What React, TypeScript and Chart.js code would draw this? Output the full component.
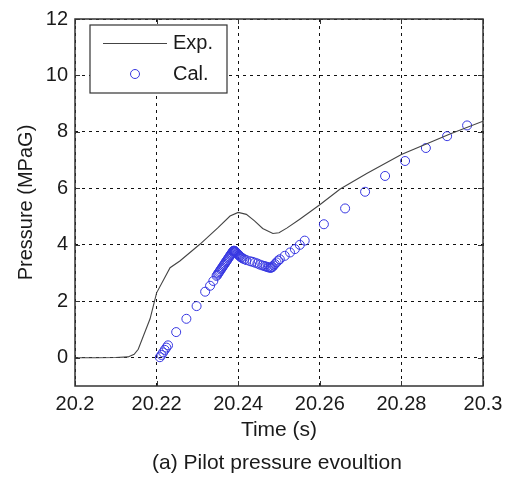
import React, { useEffect, useRef } from "react";
import { Chart, registerables } from "chart.js";

Chart.register(...registerables);

// Experimental curve (time in s, pressure in MPaG)
const expTime = [
  20.2, 20.205, 20.21, 20.213, 20.2145, 20.2155, 20.2184, 20.22, 20.2233, 20.2257,
  20.2306, 20.235, 20.238, 20.24, 20.242, 20.244, 20.246, 20.2485, 20.25, 20.252,
  20.255, 20.26, 20.265, 20.2715, 20.28, 20.2919, 20.3,
];
const expPressure = [
  0.0, 0.0, 0.01, 0.03, 0.12, 0.3, 1.38, 2.3, 3.19, 3.43,
  4.02, 4.6, 5.02, 5.15, 5.08, 4.85, 4.58, 4.4, 4.43, 4.6,
  4.9, 5.42, 5.98, 6.53, 7.2, 7.93, 8.38,
];

// Calculated points
const calTime = [
  20.2208, 20.2212, 20.2216, 20.222, 20.2224, 20.2228, 20.2248, 20.2273, 20.2298, 20.2319,
  20.2331, 20.2339, 20.2347, 20.2349, 20.2351, 20.2353, 20.2355, 20.2357, 20.2359, 20.2361,
  20.2363, 20.2365, 20.2367, 20.2369, 20.2371, 20.2373, 20.2375, 20.2377, 20.2379, 20.2381,
  20.2383, 20.2385, 20.2387, 20.2388, 20.2389, 20.239, 20.2391, 20.2392, 20.2393, 20.2394,
  20.2396, 20.2398, 20.24, 20.2402, 20.2404, 20.2406, 20.2408, 20.2411, 20.2415, 20.242,
  20.2429, 20.2435, 20.2441, 20.2447, 20.2453, 20.2459, 20.2464, 20.2468, 20.2472, 20.2475,
  20.2478, 20.248, 20.2482, 20.2484, 20.2487, 20.249, 20.2494, 20.2498, 20.2502, 20.2514,
  20.2527, 20.2539, 20.2551, 20.2563, 20.261, 20.2662, 20.2711, 20.276, 20.2809, 20.286,
  20.2912, 20.2961,
];
const calPressure = [
  0.02, 0.1, 0.19, 0.28, 0.36, 0.44, 0.91, 1.38, 1.83, 2.34,
  2.55, 2.72, 2.9, 2.94, 2.99, 3.03, 3.07, 3.12, 3.16, 3.2,
  3.25, 3.29, 3.33, 3.38, 3.42, 3.46, 3.51, 3.55, 3.59, 3.64,
  3.68, 3.72, 3.76, 3.78, 3.79, 3.79, 3.78, 3.77, 3.75, 3.74,
  3.71, 3.68, 3.66, 3.63, 3.6, 3.57, 3.55, 3.52, 3.49, 3.46,
  3.42, 3.4, 3.37, 3.34, 3.3, 3.27, 3.25, 3.23, 3.21, 3.2,
  3.19, 3.19, 3.2, 3.22, 3.27, 3.32, 3.38, 3.44, 3.49, 3.61,
  3.73, 3.85, 4.0, 4.15, 4.73, 5.29, 5.88, 6.44, 6.97, 7.43,
  7.85, 8.23,
];

const xTickValues = [20.2, 20.22, 20.24, 20.26, 20.28, 20.3];
const xTickLabels = ["20.2", "20.22", "20.24", "20.26", "20.28", "20.3"];
const yTickValues = [0, 2, 4, 6, 8, 10, 12];
const yTickLabels = ["0", "2", "4", "6", "8", "10", "12"];

const seriesNames = ["Exp.", "Cal."];
const xTitle = "Time (s)";
const yTitle = "Pressure (MPaG)";
const caption = "(a) Pilot pressure evoultion";

const FONT = "Arial, 'Liberation Sans', sans-serif";
const TEXT = "#1a1a1a";
const LINE_COLOR = "#444444";
const MARKER_COLOR = "rgb(55,55,225)";

const framePlugin = {
  id: "frame",
  afterDraw(chart: any) {
    const { ctx, chartArea } = chart;
    const { left, top, right, bottom } = chartArea;
    const xs = chart.scales.x;
    const ys = chart.scales.y;
    ctx.save();
    // box
    ctx.strokeStyle = "#333333";
    ctx.lineWidth = 1.5;
    ctx.setLineDash([]);
    ctx.strokeRect(left, top, right - left, bottom - top);
    // inward ticks
    ctx.lineWidth = 1;
    const tl = 5;
    ctx.beginPath();
    xTickValues.forEach((v) => {
      const px = Math.round(xs.getPixelForValue(v)) + 0.5;
      ctx.moveTo(px, bottom);
      ctx.lineTo(px, bottom - tl);
      ctx.moveTo(px, top);
      ctx.lineTo(px, top + tl);
    });
    yTickValues.forEach((v) => {
      const py = Math.round(ys.getPixelForValue(v)) + 0.5;
      ctx.moveTo(left, py);
      ctx.lineTo(left + tl, py);
      ctx.moveTo(right, py);
      ctx.lineTo(right - tl, py);
    });
    ctx.stroke();

    // legend
    const lx = 90, ly = 25, lw = 137, lh = 68;
    ctx.fillStyle = "#ffffff";
    ctx.fillRect(lx, ly, lw, lh);
    ctx.strokeStyle = "#333333";
    ctx.lineWidth = 1.2;
    ctx.strokeRect(lx, ly, lw, lh);
    ctx.strokeStyle = LINE_COLOR;
    ctx.lineWidth = 1;
    ctx.beginPath();
    ctx.moveTo(103, 43.5);
    ctx.lineTo(167, 43.5);
    ctx.stroke();
    ctx.strokeStyle = MARKER_COLOR;
    ctx.beginPath();
    ctx.arc(135, 74, 4.5, 0, Math.PI * 2);
    ctx.stroke();
    ctx.fillStyle = TEXT;
    ctx.font = `20px ${FONT}`;
    ctx.textAlign = "left";
    ctx.textBaseline = "middle";
    ctx.fillText(seriesNames[0], 173, 43);
    ctx.fillText(seriesNames[1], 173, 74);

    // caption
    ctx.font = `21px ${FONT}`;
    ctx.textAlign = "center";
    ctx.fillText(caption, 277, 463);
    ctx.restore();
  },
};

export default function App() {
  const canvasRef = useRef<HTMLCanvasElement | null>(null);

  useEffect(() => {
    if (!canvasRef.current) return;
    const chart = new Chart(canvasRef.current, {
      type: "scatter",
      data: {
        datasets: [
          {
            label: seriesNames[0],
            data: expTime.map((t, i) => ({ x: t, y: expPressure[i] })),
            showLine: true,
            borderColor: LINE_COLOR,
            borderWidth: 1.1,
            pointRadius: 0,
            fill: false,
            tension: 0,
          },
          {
            label: seriesNames[1],
            data: calTime.map((t, i) => ({ x: t, y: calPressure[i] })),
            showLine: false,
            pointStyle: "circle",
            pointRadius: 4.5,
            pointBorderWidth: 1,
            pointBorderColor: MARKER_COLOR,
            pointBackgroundColor: "rgba(0,0,0,0)",
            borderColor: MARKER_COLOR,
            backgroundColor: "rgba(0,0,0,0)",
          },
        ],
      },
      options: {
        responsive: false,
        animation: false,
        layout: { padding: { left: 0, top: 16, right: 29, bottom: 32 } },
        plugins: {
          legend: { display: false },
          tooltip: { enabled: false },
          title: { display: false },
        },
        scales: {
          x: {
            type: "linear",
            min: 20.2,
            max: 20.3,
            afterBuildTicks: (scale: any) => {
              scale.ticks = xTickValues.map((v) => ({ value: v }));
            },
            afterFit: (scale: any) => {
              scale.height = 60;
            },
            ticks: {
              autoSkip: false,
              maxRotation: 0,
              padding: 6,
              color: TEXT,
              font: { family: FONT, size: 20 },
              callback: (_v: any, i: number) => xTickLabels[i],
            },
            grid: {
              color: "#111111",
              lineWidth: 1,
              drawTicks: false,
            },
            border: { display: false, dash: [3, 4] },
            title: {
              display: true,
              text: xTitle,
              color: TEXT,
              font: { family: FONT, size: 21 },
              padding: { top: 0, bottom: 3 },
            },
          },
          y: {
            type: "linear",
            min: -1,
            max: 12,
            afterBuildTicks: (scale: any) => {
              scale.ticks = yTickValues.map((v) => ({ value: v }));
            },
            afterFit: (scale: any) => {
              scale.width = 75;
            },
            ticks: {
              autoSkip: false,
              padding: 7,
              color: TEXT,
              font: { family: FONT, size: 20 },
              callback: (_v: any, i: number) => yTickLabels[i],
            },
            grid: {
              color: "#111111",
              lineWidth: 1,
              drawTicks: false,
            },
            border: { display: false, dash: [3, 4] },
            title: {
              display: true,
              text: yTitle,
              color: TEXT,
              font: { family: FONT, size: 20 },
              padding: { top: 14, bottom: 0 },
            },
          },
        },
      },
      plugins: [framePlugin],
    });
    return () => chart.destroy();
  }, []);

  return (
    <div style={{ position: "absolute", left: 0, top: 0, width: 512, height: 478, background: "#ffffff" }}>
      <canvas ref={canvasRef} width={512} height={478} />
    </div>
  );
}
